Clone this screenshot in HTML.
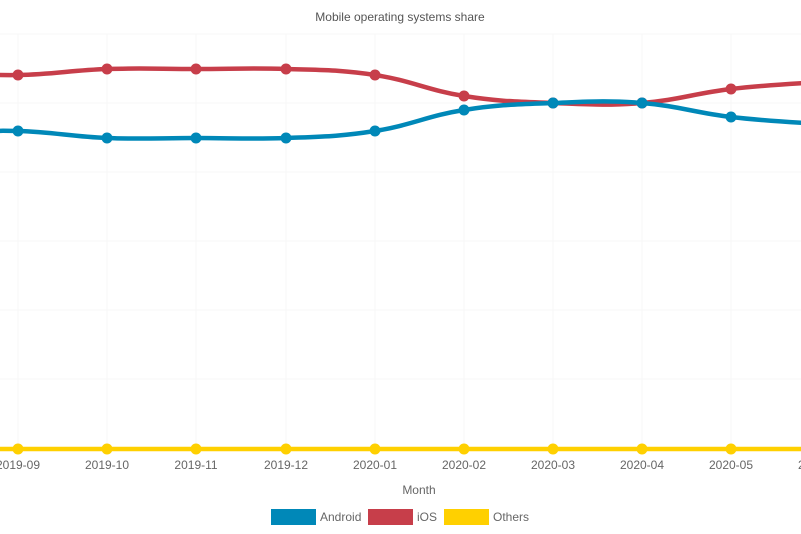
<!DOCTYPE html>
<html><head><meta charset="utf-8"><style>
body{margin:0;background:#fff;}
svg{display:block;font-family:"Liberation Sans",sans-serif;}
</style></head><body>
<svg id="s" width="801" height="534" viewBox="0 0 801 534">
<text x="400" y="21" text-anchor="middle" font-size="12" fill="#555">Mobile operating systems share</text>
<g id="grid" stroke="#f7f7f7" stroke-width="1"></g>
<g id="lines" fill="none" stroke-width="4.5"></g>
<g id="labels" font-size="12" fill="#666" text-anchor="middle"></g>
<text x="419" y="494" text-anchor="middle" font-size="12" fill="#666">Month</text>
<rect x="271" y="509" width="45" height="16" fill="#0088b8"/>
<text x="320" y="521" font-size="12" fill="#666">Android</text>
<rect x="368" y="509" width="45" height="16" fill="#c73e4a"/>
<text x="417" y="521" font-size="12" fill="#666">iOS</text>
<rect x="444" y="509" width="45" height="16" fill="#ffd000"/>
<text x="493" y="521" font-size="12" fill="#666">Others</text>
</svg>
<script>
var ns="http://www.w3.org/2000/svg";
function el(p,t,a){var e=document.createElementNS(ns,t);for(var k in a)e.setAttribute(k,a[k]);p.appendChild(e);return e;}
var xs=[-71,18,107,196,286,375,464,553,642,731,820];
var g=document.getElementById('grid');
[34,103,172,241,310,379].forEach(function(y){el(g,'line',{x1:0,x2:801,y1:y,y2:y});});
xs.forEach(function(x){el(g,'line',{x1:x,x2:x,y1:34,y2:449});});
var L=document.getElementById('labels');
var names=['2019-08','2019-09','2019-10','2019-11','2019-12','2020-01','2020-02','2020-03','2020-04','2020-05','2020-06'];
xs.forEach(function(x,i){var t=el(L,'text',{x:x,y:469});t.textContent=names[i];});
var series=[
 {c:'#c73e4a',y:[72,75,69,69,69,75,96,103,103,89,82]},
 {c:'#0088b8',y:[133,131,138,138,138,131,110,103,103,117,124]},
 {c:'#ffd000',y:[449,449,449,449,449,449,449,449,449,449,449]}];
var lg=document.getElementById('lines');
series.forEach(function(s){
 var p=xs.map(function(x,i){return [x,s.y[i]];});
 var d='M'+p[0][0]+','+p[0][1];var t=0.4;
 for(var i=0;i<p.length-1;i++){
  var p0=p[Math.max(0,i-1)],p1=p[i],p2=p[i+1],p3=p[Math.min(p.length-1,i+2)];
  var c1=[p1[0]+(p2[0]-p0[0])*t/2,p1[1]+(p2[1]-p0[1])*t/2];
  var c2=[p2[0]-(p3[0]-p1[0])*t/2,p2[1]-(p3[1]-p1[1])*t/2];
  d+=' C'+c1+' '+c2+' '+p2;
 }
 el(lg,'path',{d:d,stroke:s.c});
 p.forEach(function(q){el(lg,'circle',{cx:q[0],cy:q[1],r:5.5,fill:s.c,stroke:'none'});});
});
</script>
</body></html>
